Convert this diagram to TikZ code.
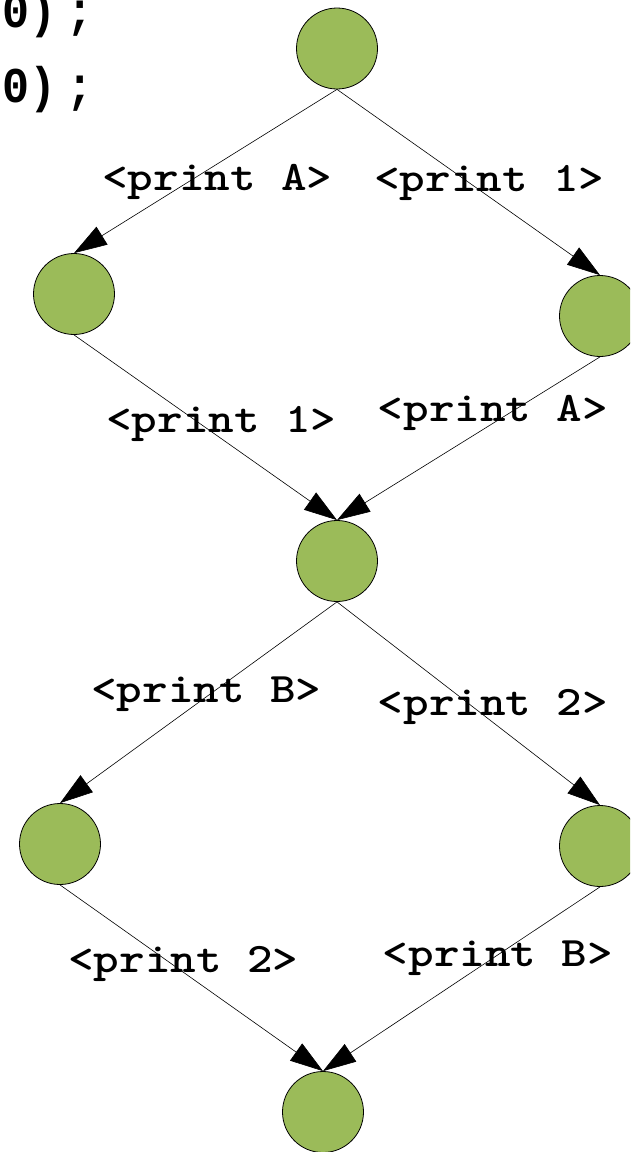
\documentclass[tikz,border=0pt]{standalone}
\usepackage{fontspec}
\newfontfamily\codefont{lmmonolt10-bold}[Extension=.otf, FakeStretch=1.16]
\newfontfamily\topfont{Liberation Mono}[FakeStretch=0.9]
\usetikzlibrary{arrows.meta}
\definecolor{nodegreen}{HTML}{9BBB59}
\tikzset{
  state/.style={circle, draw=black, line width=0.8pt, fill=nodegreen, minimum size=81pt, inner sep=0pt},
  conn/.style={draw=black, line width=0.6pt, -{Triangle[length=33pt,width=21pt]}},
  lbl/.style={anchor=base, inner sep=0pt, font=\codefont\fontsize{42pt}{46pt}\selectfont},
  toplbl/.style={anchor=base west, inner sep=0pt, font=\topfont\bfseries\fontsize{50pt}{54pt}\selectfont},
}
\begin{document}
\begin{tikzpicture}[x=1pt,y=-1pt]
\useasboundingbox (0,0) rectangle (630,1152);
\clip (0,0) rectangle (630,1152);
\node[toplbl] (c1) at (2,27) {0)\kern10pt;};
\node[toplbl] (c2) at (2,102) {0)\kern10pt;};
\node[state] (n0) at (337,48.5) {};
\node[state] (n1) at (74,294) {};
\node[state] (n2) at (600,316) {};
\node[state] (n3) at (337,561) {};
\node[state] (n4) at (60,844) {};
\node[state] (n5) at (600,846) {};
\node[state] (n6) at (323,1112) {};
\draw[conn] (n0.south) -- (n1.north);
\draw[conn] (n0.south) -- (n2.north);
\draw[conn] (n1.south) -- (n3.north);
\draw[conn] (n2.south) -- (n3.north);
\draw[conn] (n3.south) -- (n4.north);
\draw[conn] (n3.south) -- (n5.north);
\draw[conn] (n4.south) -- (n6.north);
\draw[conn] (n5.south) -- (n6.north);
\node[lbl] (l1) at (217.5,190) {<print A>};
\node[lbl] (l2) at (489.5,191) {<print 1>};
\node[lbl] (l3) at (221.5,432) {<print 1>};
\node[lbl] (l4) at (493,421) {<print A>};
\node[lbl] (l5) at (206.5,702) {<print B>};
\node[lbl] (l6) at (493,715) {<print 2>};
\node[lbl] (l7) at (183.5,972) {<print 2>};
\node[lbl] (l8) at (498,966) {<print B>};
\end{tikzpicture}
\end{document}
